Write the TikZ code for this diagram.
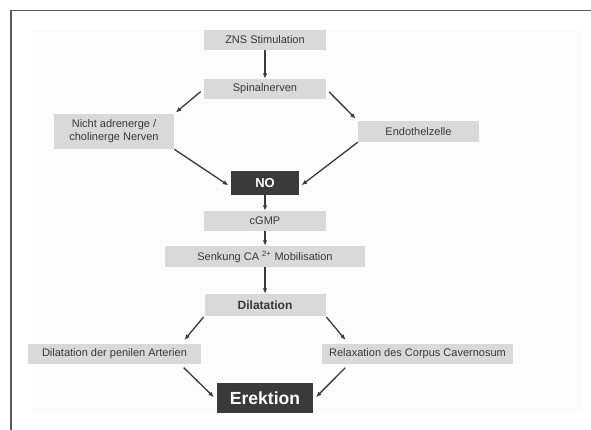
\documentclass[tikz,border=0pt]{standalone}
\usepackage{fontspec}
\setmainfont{Liberation Sans}
\usetikzlibrary{arrows.meta}
\definecolor{boxgray}{RGB}{217,217,217}
\definecolor{darkgray}{RGB}{58,58,58}
\definecolor{textgray}{RGB}{56,56,56}
\tikzset{
	box/.style={fill=boxgray, text=textgray, inner sep=0pt, minimum height=20pt, font=\fontsize{11}{13}\selectfont, align=center},
	darkbox/.style={fill=darkgray, text=white, inner sep=0pt, font=\bfseries},
	pfeil/.style={-{Latex[length=5.5pt,width=4.5pt]}, draw=darkgray, line width=1.3pt}
}
\begin{document}
\begin{tikzpicture}[x=1pt,y=-1pt]
		\useasboundingbox (0,0) rectangle (591,430);
		\fill[black!1.2] (32,30) rectangle (582,413);
		\draw[gray!70!black, line width=1.6pt] (11,430) -- (11,10.5) -- (591,10.5);
		
		\node[box, minimum width=122pt] (zns) at (265,40) {ZNS Stimulation};
		\node[box, minimum width=122pt] (spinal) at (265,89) {Spinalnerven};
		\node[box, minimum width=120pt, minimum height=35pt] (nanc) at (114,131.5) {Nicht adrenerge /\\cholinerge Nerven};
		\node[box, minimum width=121pt, minimum height=21pt] (endo) at (418.5,131.5) {Endothelzelle};
		\node[darkbox, minimum width=68pt, minimum height=24pt, font=\fontsize{13}{15}\selectfont\bfseries] (no) at (265,183) {NO};
		\node[box, minimum width=122pt] (cgmp) at (265,221) {cGMP};
		\node[box, minimum width=200pt, minimum height=21pt] (senk) at (265,256.5) {Senkung CA \textsuperscript{2+} Mobilisation};
		\node[box, minimum width=121pt, minimum height=22pt, font=\fontsize{12}{14}\selectfont\bfseries] (dil) at (265,305) {Dilatation};
		\node[box, minimum width=173pt] (art) at (114.5,354) {Dilatation der penilen Arterien};
		\node[box, minimum width=191pt] (rel) at (417.5,354) {Relaxation des Corpus Cavernosum};
		\node[darkbox, minimum width=96pt, minimum height=30pt, font=\fontsize{17.5}{20}\selectfont\bfseries] (erek) at (265,398) {Erektion};
		
		\draw[pfeil] (zns) -- (spinal);
		\draw[pfeil, shorten <=4pt, shorten >=2pt] (spinal.west) -- (nanc.north east);
		\draw[pfeil, shorten <=4pt, shorten >=3pt] (spinal.east) -- (endo.north west);
		\draw[pfeil, shorten >=3pt] (nanc.south east) -- ([yshift=-4pt]no.west);
		\draw[pfeil, shorten >=3pt] (endo.south west) -- ([yshift=-4pt]no.east);
		\draw[pfeil] (no) -- (cgmp);
		\draw[pfeil] (cgmp) -- (senk);
		\draw[pfeil] (senk) -- (dil);
		\draw[pfeil, shorten <=1pt, shorten >=5pt] (dil.south west) -- ([xshift=-20pt]art.north east);
		\draw[pfeil, shorten <=1pt, shorten >=5pt] (dil.south east) -- ([xshift=27pt]rel.north west);
		\draw[pfeil, shorten <=5pt, shorten >=4pt] ([xshift=-21pt]art.south east) -- ([yshift=-2pt]erek.west);
		\draw[pfeil, shorten <=5pt, shorten >=4pt] ([xshift=27pt]rel.south west) -- ([yshift=-2pt]erek.east);
		\end{tikzpicture}
\end{document}
